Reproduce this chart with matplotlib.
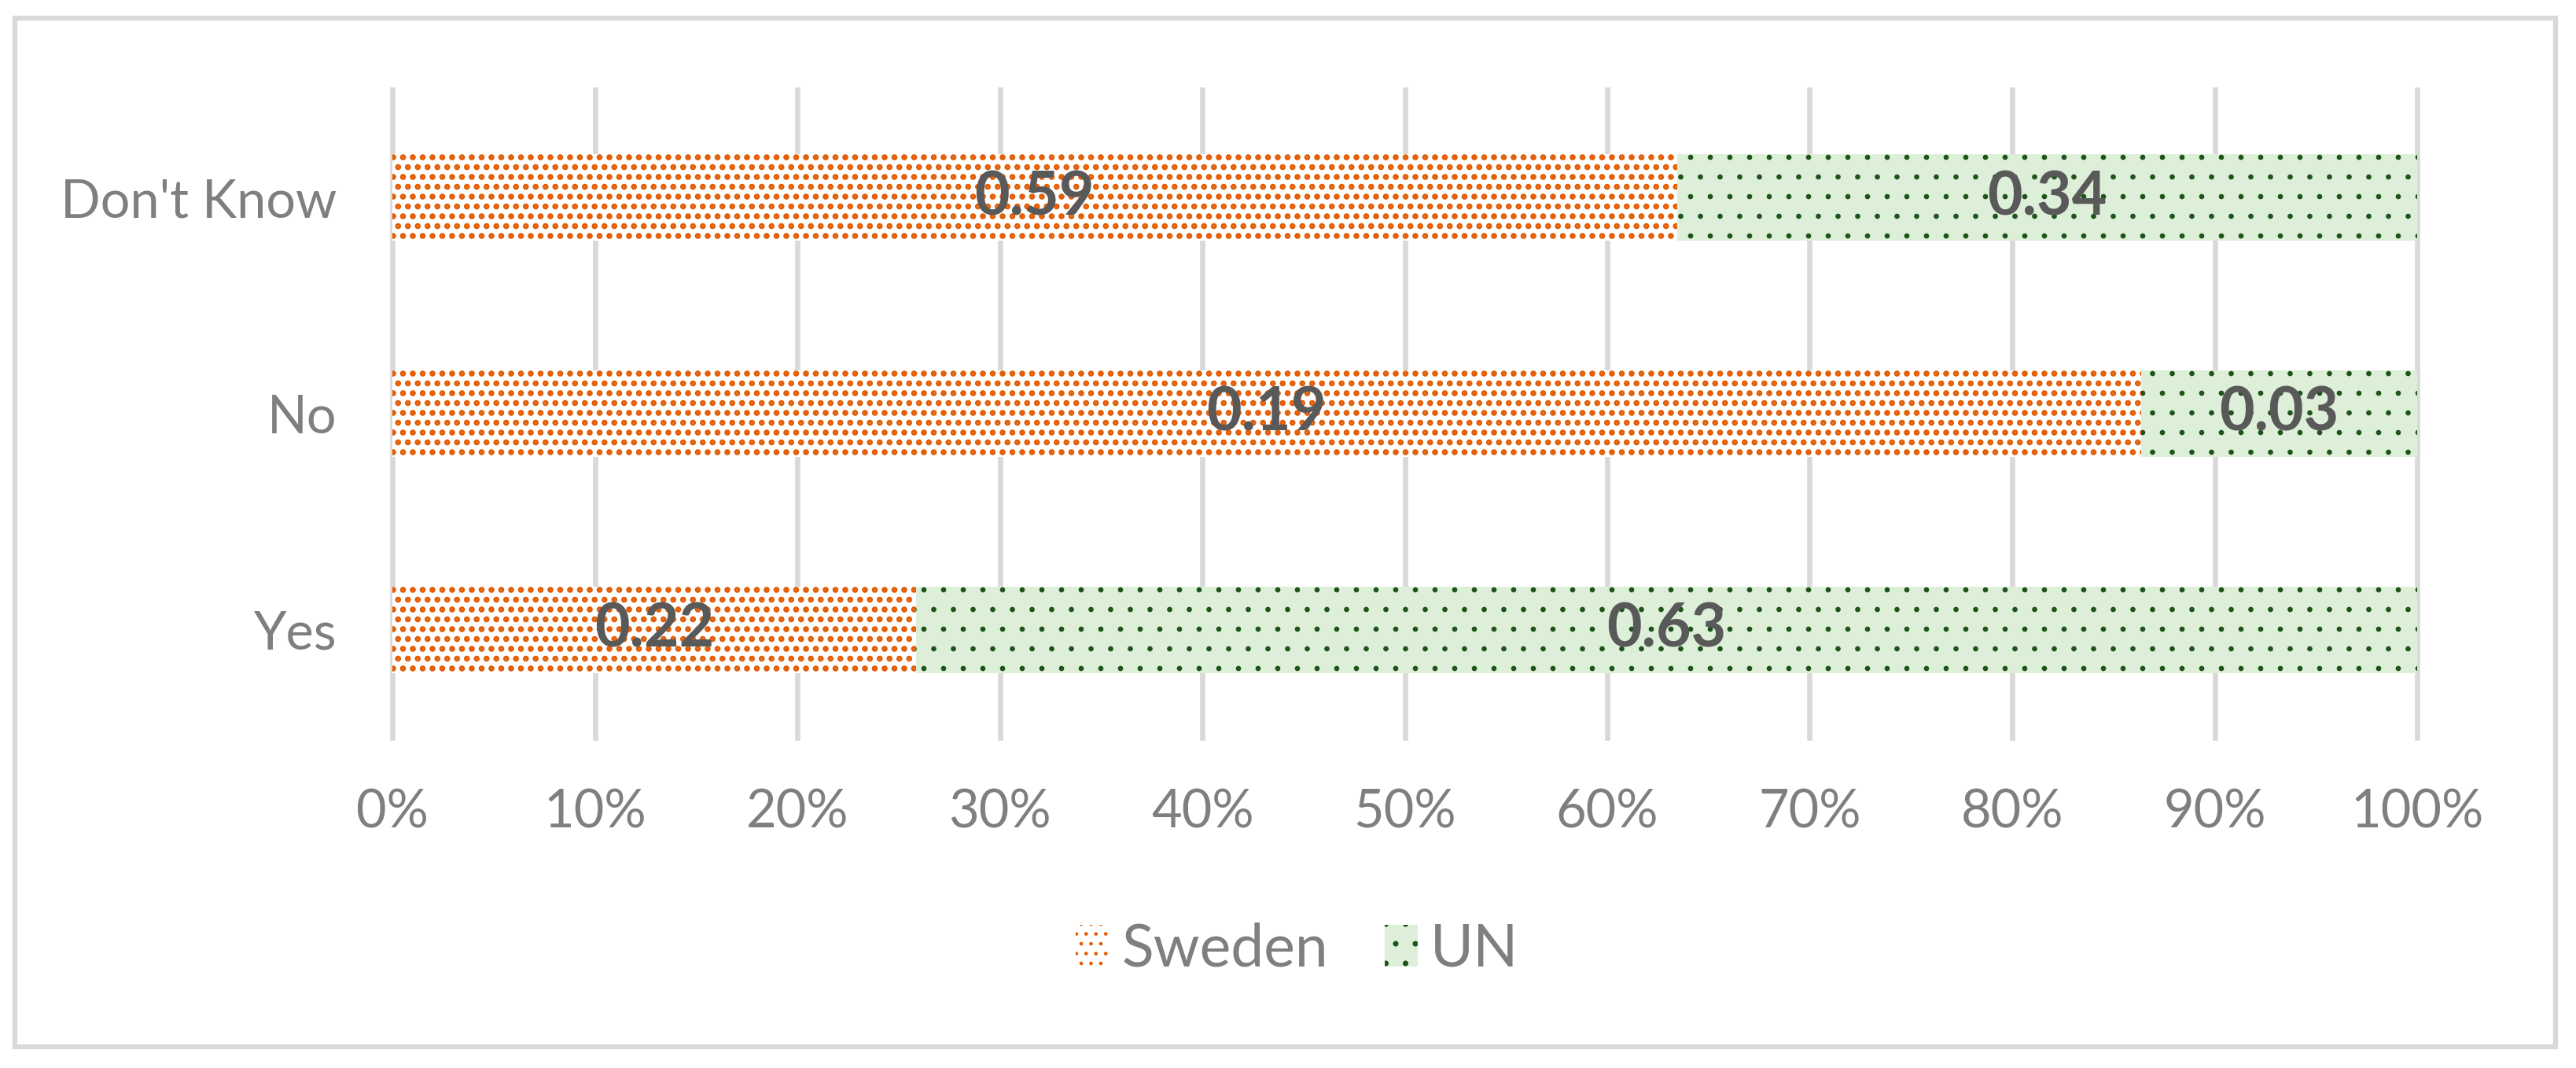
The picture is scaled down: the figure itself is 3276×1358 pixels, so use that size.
import matplotlib
matplotlib.use("Agg")
import matplotlib.pyplot as plt
from matplotlib.patches import Rectangle
import numpy as np

# ---- data ----
categories = ["Yes", "No", "Don't Know"]
sweden = [0.22, 0.19, 0.59]
un = [0.63, 0.03, 0.34]
series_names = ["Sweden", "UN"]
x_ticks = [0, 0.1, 0.2, 0.3, 0.4, 0.5, 0.6, 0.7, 0.8, 0.9, 1.0]
x_tick_labels = ["0%", "10%", "20%", "30%", "40%", "50%", "60%", "70%", "80%", "90%", "100%"]

plt.rcParams['font.family'] = ['Lato', 'DejaVu Sans']

DPI = 150
fig = plt.figure(figsize=(3276 / DPI, 1358 / DPI), dpi=DPI)
ax = fig.add_axes([499 / 3276, 1 - 938 / 1358, (3074 - 499) / 3276, (938 - 114) / 1358])

sw = np.array(sweden)
u = np.array(un)
tot = sw + u
sw_n = sw / tot
un_n = u / tot
y = np.arange(len(categories))

GRAY_TXT = "#7f7f7f"
ORANGE = "#E35B02"
GREEN_DOT = "#1E531A"
GREEN_BG = "#DDEFD9"

with plt.rc_context({'hatch.linewidth': 2.4}):
    b1 = ax.barh(y, sw_n, height=0.4, color="white", edgecolor=ORANGE,
                 linewidth=0, hatch="..", label=series_names[0], zorder=2)
with plt.rc_context({'hatch.linewidth': 0.8}):
    b2 = ax.barh(y, un_n, left=sw_n, height=0.4, color=GREEN_BG, edgecolor=GREEN_DOT,
                 linewidth=0, hatch=".", label=series_names[1], zorder=2)

ax.bar_label(b1, labels=[f"{v:.2f}" for v in sweden], label_type="center",
             fontsize=37, fontweight="bold", color="#595959", zorder=5)
ax.bar_label(b2, labels=[f"{v:.2f}" for v in un], label_type="center",
             fontsize=37, fontweight="bold", color="#595959", zorder=5)

ax.set_xlim(0, 1)
ax.set_ylim(-0.5, 2.5)
ax.set_xticks(x_ticks)
ax.set_xticklabels(x_tick_labels)
ax.set_yticks(y)
ax.set_yticklabels(categories)
ax.tick_params(axis="x", length=0, pad=31, labelsize=32, labelcolor=GRAY_TXT)
ax.tick_params(axis="y", length=0, pad=34, labelsize=32, labelcolor=GRAY_TXT)
for s in ax.spines.values():
    s.set_visible(False)
ax.set_axisbelow(True)
ax.xaxis.grid(True, color="#D9D9D9", linewidth=3.2)
ax.yaxis.grid(False)
for gl in ax.get_xgridlines():
    gl.set_clip_on(False)

leg = fig.legend(handles=[b1, b2], labels=series_names, loc="center",
                 bbox_to_anchor=(1650 / 3276, 1 - 1207 / 1358), ncol=2, frameon=False,
                 fontsize=36, handlelength=0.56, handleheight=0.72, handletextpad=0.22,
                 columnspacing=0.95, labelcolor=GRAY_TXT)

# outer chart border
fig.patches.append(Rectangle((19 / 3276, 1 - 1331 / 1358), (3250 - 19) / 3276, (1331 - 23) / 1358,
                             transform=fig.transFigure, fill=False, edgecolor="#D9D9D9",
                             linewidth=3.0, zorder=0))

fig.savefig("out.png", dpi=DPI, facecolor="white")
